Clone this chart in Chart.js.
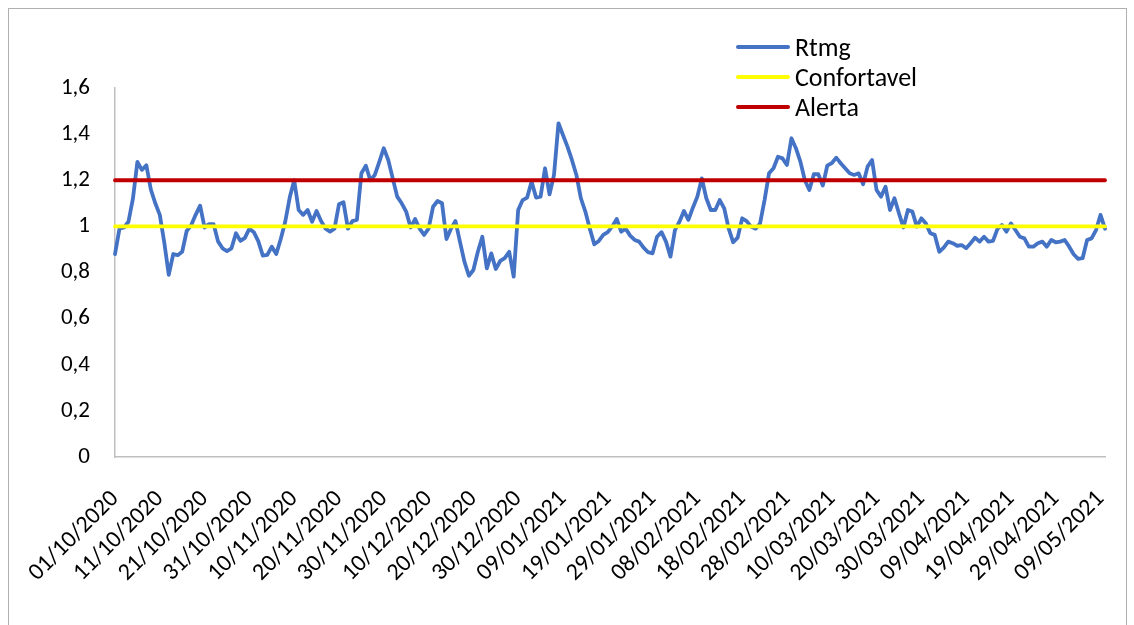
<!DOCTYPE html>
<html>
<head>
<meta charset="utf-8">
<script src="https://cdn.jsdelivr.net/npm/chart.js@4.4.1/dist/chart.umd.min.js"></script>
<style>
  html, body { margin: 0; padding: 0; background: #fff; }
  #wrap { position: relative; width: 1134px; height: 625px; overflow: hidden; }
  #frame { position: absolute; left: 8px; top: 8px; width: 1119px; height: 660px; border: 1px solid #b0b0b0; box-sizing: border-box; }
  canvas { position: absolute; left: 0; top: 0; }
  #legend { position: absolute; left: 736px; top: 32px; font-family: Carlito, Lato, "Open Sans", sans-serif; font-size: 26px; color: #000; }
  .item { position: relative; height: 30px; line-height: 30px; }
  .swatch { position: absolute; left: 0; top: 13px; width: 54px; height: 4px; border-radius: 2px; }
  .lbl { position: absolute; left: 59px; top: 0; white-space: nowrap; }
</style>
</head>
<body>
<div id="wrap">
  <div id="frame"></div>
  <canvas id="c" width="1134" height="625"></canvas>
  <div id="legend"></div>
</div>
<script>
// ---- data ----
const startDate = [2020, 10, 1];   // 01/10/2020, one value per day
const tickLabels = ["01/10/2020","11/10/2020","21/10/2020","31/10/2020","10/11/2020","20/11/2020",
  "30/11/2020","10/12/2020","20/12/2020","30/12/2020","09/01/2021","19/01/2021","29/01/2021",
  "08/02/2021","18/02/2021","28/02/2021","10/03/2021","20/03/2021","30/03/2021","09/04/2021",
  "19/04/2021","29/04/2021","09/05/2021"];
const rtmg = [
  0.88,0.99,0.995,1.02,1.12,1.28,1.245,1.265,1.16,1.10,
  1.05,0.93,0.79,0.88,0.875,0.89,0.98,1.005,1.05,1.09,
  0.995,1.01,1.01,0.935,0.905,0.893,0.905,0.97,0.937,0.95,
  0.99,0.975,0.935,0.873,0.876,0.912,0.88,0.945,1.02,1.125,
  1.20,1.071,1.05,1.071,1.02,1.067,1.023,0.99,0.977,0.99,
  1.096,1.105,0.99,1.023,1.028,1.23,1.263,1.20,1.223,1.28,
  1.339,1.288,1.208,1.129,1.10,1.064,0.995,1.032,0.99,0.963,
  0.99,1.085,1.11,1.10,0.945,0.99,1.023,0.934,0.847,0.786,
  0.811,0.89,0.955,0.818,0.883,0.815,0.85,0.862,0.89,0.782,
  1.071,1.114,1.125,1.194,1.125,1.129,1.252,1.139,1.223,1.447,
  1.396,1.346,1.288,1.223,1.122,1.064,0.99,0.922,0.937,0.963,
  0.975,1.0,1.032,0.977,0.99,0.96,0.941,0.934,0.908,0.888,
  0.883,0.955,0.975,0.934,0.869,0.984,1.02,1.067,1.028,1.081,
  1.129,1.208,1.122,1.071,1.071,1.114,1.078,0.99,0.931,0.951,
  1.035,1.023,0.999,0.99,1.013,1.114,1.23,1.252,1.302,1.295,
  1.266,1.382,1.339,1.281,1.20,1.158,1.226,1.226,1.177,1.263,
  1.274,1.298,1.274,1.252,1.23,1.223,1.23,1.183,1.259,1.288,
  1.158,1.129,1.172,1.071,1.122,1.057,0.995,1.071,1.064,0.999,
  1.035,1.013,0.97,0.963,0.89,0.908,0.934,0.927,0.916,0.919,
  0.905,0.927,0.951,0.934,0.955,0.934,0.937,0.989,1.006,0.977,
  1.013,0.984,0.955,0.948,0.912,0.912,0.927,0.934,0.912,0.941,
  0.931,0.934,0.941,0.912,0.879,0.859,0.862,0.941,0.948,0.984,
  1.05,0.99
];
const confortavelLevel = 1.0;
const alertaLevel = 1.2;
const yTicks = [0, 0.2, 0.4, 0.6, 0.8, 1, 1.2, 1.4, 1.6];

// ---- build category labels (dd/mm/yyyy) ----
function pad(n){ return (n < 10 ? "0" : "") + n; }
const dates = rtmg.map((_, i) => {
  const d = new Date(Date.UTC(startDate[0], startDate[1] - 1, startDate[2] + i));
  return pad(d.getUTCDate()) + "/" + pad(d.getUTCMonth() + 1) + "/" + d.getUTCFullYear();
});
const first = dates[0], last = dates[dates.length - 1];

const FONT = "Carlito, Lato, 'Open Sans', sans-serif";
const series = [
  { label: "Rtmg", color: "#4472C4", width: 3.8, data: rtmg, order: 3 },
  { label: "Confortavel", color: "#FFFF00", width: 3.8,
    data: [{x: first, y: confortavelLevel}, {x: last, y: confortavelLevel}], order: 2 },
  { label: "Alerta", color: "#C00000", width: 3.8,
    data: [{x: first, y: alertaLevel}, {x: last, y: alertaLevel}], order: 1 }
];

new Chart(document.getElementById("c"), {
  type: "line",
  data: {
    labels: dates,
    datasets: series.map(s => ({
      label: s.label, data: s.data, borderColor: s.color, backgroundColor: s.color,
      borderWidth: s.width, pointRadius: 0, tension: 0, fill: false, order: s.order,
      borderCapStyle: "round", borderJoinStyle: "round"
    }))
  },
  options: {
    responsive: false,
    animation: false,
    events: [],
    layout: { padding: { left: 0, top: 88, right: 29, bottom: 0 } },
    plugins: { legend: { display: false }, tooltip: { enabled: false } },
    scales: {
      x: {
        type: "category",
        offset: false,
        grid: { display: true, drawOnChartArea: false, drawTicks: false },
        border: { display: true, color: "#bfbfbf", width: 1.5 },
        ticks: {
          autoSkip: false, minRotation: 45, maxRotation: 45, padding: 28,
          color: "#000", font: { family: FONT, size: 24 },
          callback: function(value) {
            const lbl = this.getLabelForValue(value);
            return tickLabels.includes(lbl) ? lbl : null;
          }
        },
        afterFit: s => { s.height = 168; s.paddingLeft = 0; s.paddingRight = 0; }
      },
      y: {
        min: 0, max: 1.6,
        grid: { display: true, drawOnChartArea: false, drawTicks: false },
        border: { display: true, color: "#bfbfbf", width: 1.5 },
        afterBuildTicks: s => { s.ticks = yTicks.map(v => ({ value: v })); },
        ticks: {
          padding: 25, color: "#000", font: { family: FONT, size: 23 },
          callback: v => v.toLocaleString("pt-BR", { maximumFractionDigits: 1 })
        },
        afterFit: s => { s.width = 115; }
      }
    }
  }
});

// ---- HTML legend ----
const leg = document.getElementById("legend");
series.forEach(s => {
  const it = document.createElement("div"); it.className = "item";
  const sw = document.createElement("span"); sw.className = "swatch"; sw.style.background = s.color;
  const tx = document.createElement("span"); tx.className = "lbl"; tx.textContent = s.label;
  it.appendChild(sw); it.appendChild(tx); leg.appendChild(it);
});
</script>
</body>
</html>
